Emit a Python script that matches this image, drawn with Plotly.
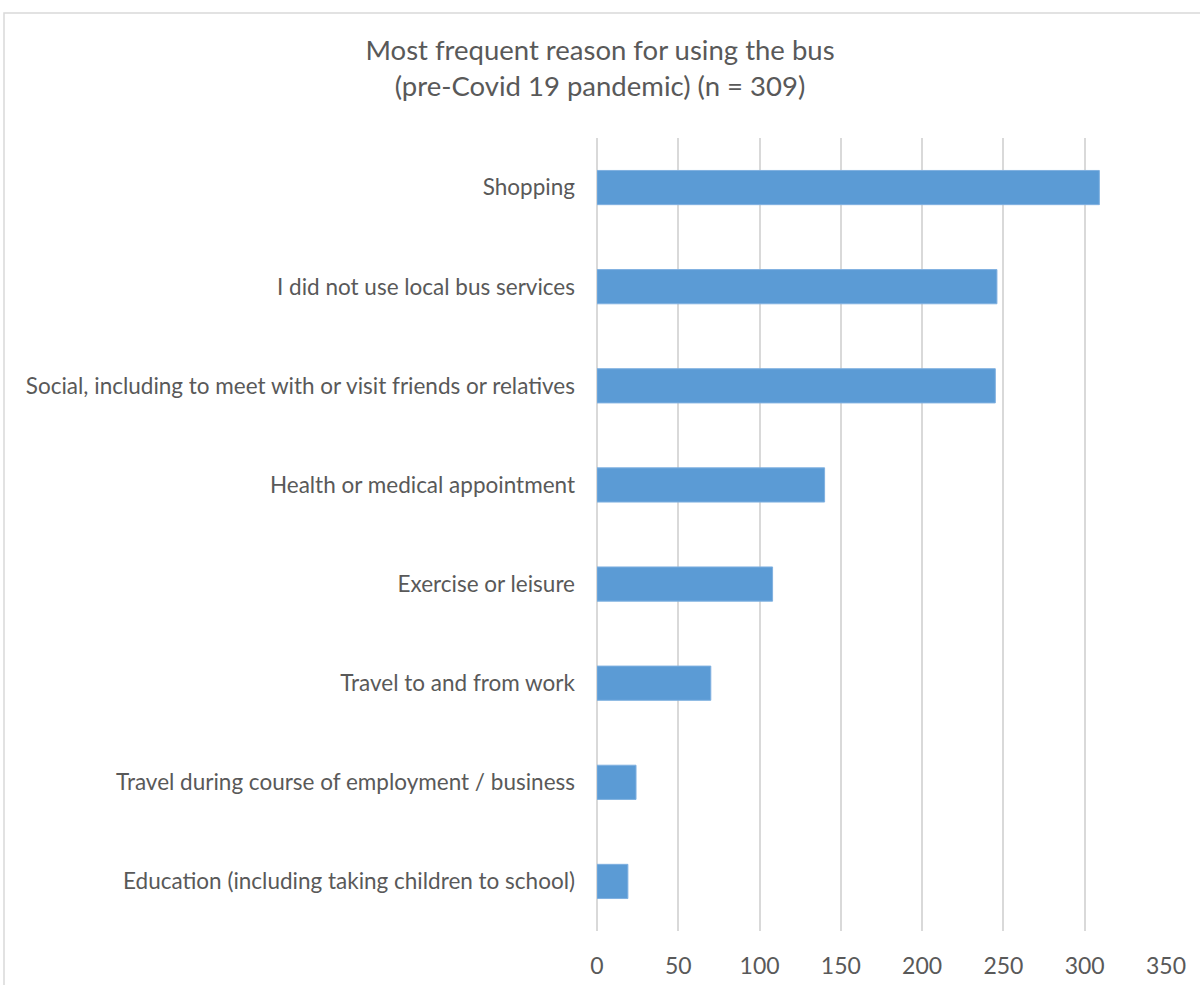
import plotly.graph_objects as go

# Survey responses: most frequent reason for using the bus, pre-Covid
reasons = [
    "Shopping",
    "I did not use local bus services",
    "Social, including to meet with or visit friends or relatives",
    "Health or medical appointment",
    "Exercise or leisure",
    "Travel to and from work",
    "Travel during course of employment / business",
    "Education (including taking children to school)",
]
counts = [309, 246, 245, 140, 108, 70, 24, 19]
x_ticks = [0, 50, 100, 150, 200, 250, 300, 350]

TEXT = "#595959"
GRID = "#D9D9D9"
BAR = "#5B9BD5"
FONT = "Lato"

fig = go.Figure(
    go.Bar(
        x=counts,
        y=reasons,
        orientation="h",
        marker=dict(color=BAR, line=dict(color="#7FB0E0", width=1)),
        width=0.345,
        hoverinfo="x+y",
    )
)

fig.update_layout(
    width=1200,
    height=985,
    margin=dict(l=597, r=34, t=138, b=54),
    paper_bgcolor="white",
    plot_bgcolor="white",
    showlegend=False,
    font=dict(family=FONT, color=TEXT, size=22),
    title=dict(
        text="Most frequent reason for using the bus<br>(pre-Covid 19 pandemic) (n = 309)",
        x=0.5,
        xanchor="center",
        y=1 - 60 / 985,
        yanchor="middle",
        font=dict(family=FONT, size=27.5, color=TEXT),
    ),
    xaxis=dict(
        range=[0, 350],
        tickvals=x_ticks,
        showgrid=True,
        gridcolor=GRID,
        gridwidth=1.5,
        zeroline=True,
        zerolinecolor=GRID,
        zerolinewidth=1.5,
        showline=False,
        ticks="",
        ticklabelstandoff=19,
        tickfont=dict(family=FONT, size=23, color=TEXT),
        automargin=False,
        fixedrange=True,
    ),
    yaxis=dict(
        autorange="reversed",
        showgrid=False,
        showline=False,
        ticks="",
        ticklabelstandoff=21,
        tickfont=dict(family=FONT, size=22.5, color=TEXT),
        automargin=False,
        fixedrange=True,
    ),
    shapes=[
        dict(
            type="rect",
            xref="paper",
            yref="paper",
            x0=(4 - 597) / 569,
            x1=2.0,
            y0=-1.0,
            y1=(931 - 13) / 793,
            line=dict(color="#D9D9D9", width=1.5),
            fillcolor="rgba(0,0,0,0)",
            layer="below",
        )
    ],
)

fig.write_html("out.html")
